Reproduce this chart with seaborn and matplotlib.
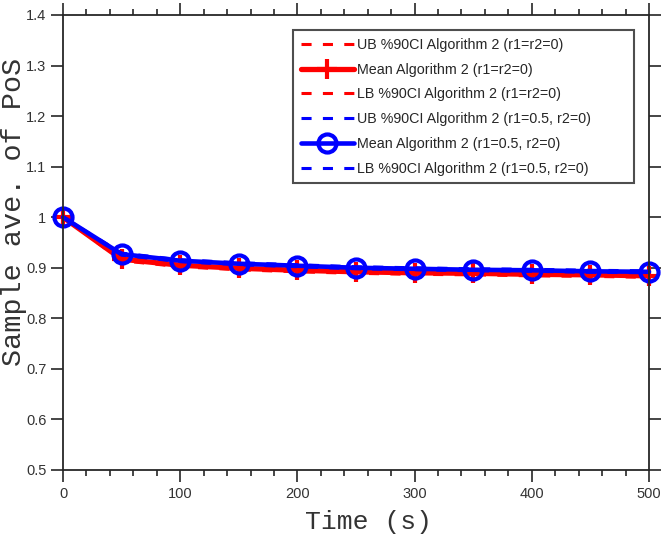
import numpy as np
import pandas as pd
import matplotlib
matplotlib.use("Agg")
import matplotlib.pyplot as plt
from matplotlib.ticker import MultipleLocator
import seaborn as sns

# values
time_s = [0, 50, 100, 150, 200, 250, 300, 350, 400, 450, 500]
mean_r0 = [1.000, 0.917, 0.905, 0.899, 0.895, 0.892, 0.890, 0.889, 0.887, 0.886, 0.884]
ub_r0 = [1.000, 0.920, 0.908, 0.902, 0.898, 0.895, 0.893, 0.892, 0.890, 0.889, 0.887]
lb_r0 = [1.000, 0.914, 0.902, 0.896, 0.892, 0.889, 0.887, 0.886, 0.884, 0.883, 0.881]
mean_r05 = [1.000, 0.927, 0.914, 0.908, 0.904, 0.900, 0.898, 0.896, 0.895, 0.893, 0.892]
ub_r05 = [1.000, 0.929, 0.916, 0.910, 0.906, 0.902, 0.900, 0.898, 0.897, 0.895, 0.894]
lb_r05 = [1.000, 0.925, 0.912, 0.906, 0.902, 0.898, 0.896, 0.894, 0.893, 0.891, 0.890]

sns.set_style("ticks")
plt.rcParams['font.family'] = ['Liberation Sans', 'DejaVu Sans']

fig = plt.figure(figsize=(6.64, 5.37), dpi=100)
ax = fig.add_axes([0.0949, 0.1248, 0.8825, 0.8473])

red = "#ff0000"
blue = "#0000ff"
dash = (3.3, 3.7)

sns.lineplot(x=time_s, y=ub_r0, ax=ax, color=red, lw=2.2,
             label="UB %90CI Algorithm 2 (r1=r2=0)")
ax.lines[-1].set_dashes(dash)
sns.lineplot(x=time_s, y=mean_r0, ax=ax, color=red, lw=3.8, marker="+",
             markersize=14, markeredgewidth=3, markeredgecolor=red,
             label="Mean Algorithm 2 (r1=r2=0)")
sns.lineplot(x=time_s, y=lb_r0, ax=ax, color=red, lw=2.2,
             label="LB %90CI Algorithm 2 (r1=r2=0)")
ax.lines[-1].set_dashes(dash)
sns.lineplot(x=time_s, y=ub_r05, ax=ax, color=blue, lw=2.2,
             label="UB %90CI Algorithm 2 (r1=0.5, r2=0)")
ax.lines[-1].set_dashes(dash)
sns.lineplot(x=time_s, y=mean_r05, ax=ax, color=blue, lw=3.3, marker="o",
             markersize=13, markeredgewidth=3, markerfacecolor="none",
             markeredgecolor=blue,
             label="Mean Algorithm 2 (r1=0.5, r2=0)")
sns.lineplot(x=time_s, y=lb_r05, ax=ax, color=blue, lw=2.2,
             label="LB %90CI Algorithm 2 (r1=0.5, r2=0)")
ax.lines[-1].set_dashes(dash)

for ln in ax.lines:
    ln.set_clip_on(False)

ax.set_xlim(0, 500)
ax.set_ylim(0.5, 1.4)
ax.set_xticks([0, 100, 200, 300, 400, 500])
ax.set_yticks(np.round(np.arange(0.5, 1.41, 0.1), 1))
ax.set_yticklabels(["0.5", "0.6", "0.7", "0.8", "0.9", "1", "1.1", "1.2", "1.3", "1.4"])
ax.xaxis.set_minor_locator(MultipleLocator(20))

dark = "#262626"
for sp in ax.spines.values():
    sp.set_visible(True)
    sp.set_linewidth(1.3)
    sp.set_color(dark)
ax.tick_params(which="both", direction="out", top=True, right=True,
               color=dark, width=1.2, labelsize=10.5, labelcolor="#333333")
ax.tick_params(which="major", length=8.5)
ax.tick_params(which="minor", length=4.3)
ax.tick_params(axis="y", which="minor", left=False, right=False)

ax.set_xlabel("Time (s)", family="Liberation Mono", fontsize=19, color="#333333")
ax.set_ylabel("Sample ave. of PoS", family="Liberation Mono", fontsize=20.5, color="#333333")
ax.xaxis.set_label_coords(0.522, -0.088)
ax.yaxis.set_label_coords(-0.062, 0.567)

leg = ax.legend(loc="upper left", bbox_to_anchor=(0.3925, 0.631, 0.5815, 0.336),
                mode="expand", borderaxespad=0,
                fontsize=10.3, frameon=True, fancybox=False, edgecolor="#222222",
                handlelength=3.7, labelspacing=0.75, handletextpad=0.25,
                borderpad=0.55)
leg.get_frame().set_linewidth(1.5)

fig.savefig("out.png", dpi=100)
